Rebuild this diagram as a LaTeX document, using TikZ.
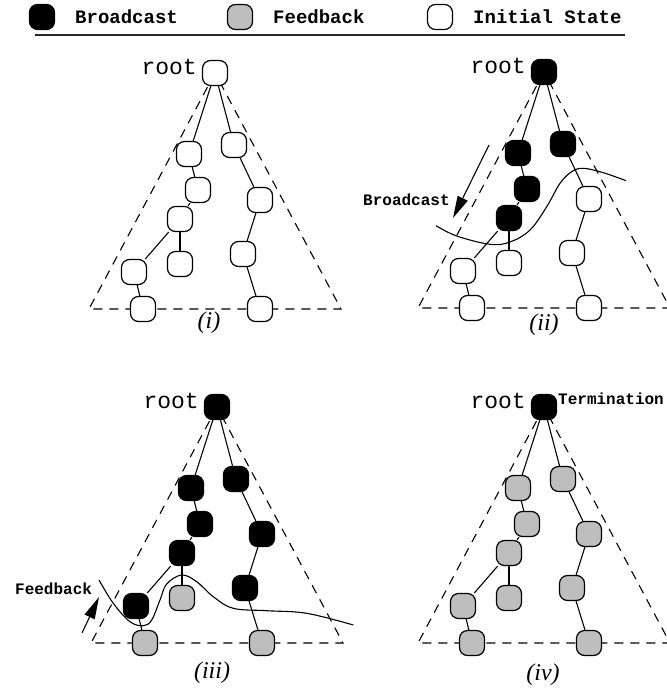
\documentclass[tikz,border=0pt]{standalone}
\usepackage{fontspec}
\setmainfont{Liberation Serif}
\setmonofont{Liberation Mono}
\usetikzlibrary{arrows.meta}
\definecolor{fb}{RGB}{190,190,190}
\tikzset{
  nd/.style={draw=black, line width=1.2pt, rounded corners=8pt, minimum width=25pt, minimum height=25pt, inner sep=0pt, fill=white},
  treeedge/.style={line width=1.1pt},
  tri/.style={line width=1.1pt, dash pattern=on 9pt off 7pt},
  wave/.style={line width=1.1pt},
  rootlbl/.style={font=\ttfamily\fontsize{23}{23}\selectfont, inner sep=0pt, anchor=east},
  lbl/.style={font=\ttfamily\bfseries\fontsize{16}{16}\selectfont, inner sep=0pt, anchor=west},
  leg/.style={font=\ttfamily\bfseries\fontsize{19}{19}\selectfont, inner sep=0pt, anchor=west},
  captxt/.style={font=\itshape\fontsize{24}{24}\selectfont, inner sep=0pt},
  arr/.style={line width=1.1pt, -{Triangle[length=22pt,width=11pt]}},
}
\newcommand\DrawTree[6]{%
 \begin{scope}[shift={#2}]
  \draw[tri] (0,0) -- (-126,236) -- (126,236) -- cycle;
  \foreach \n/\x/\y/\c in {root/0/0/#3, L1/-26/81/#4, R1/19/72/#4, L2/-17/117/#4, L3/-35/146/#4, M/-35/191/#6, L4/-81/199/#5, L5/-72/236/#6, R2/45/127/#5, R3/28/181/#5, R4/45/236/#6}
    \node[nd, fill=\c] (#1\n) at (\x,\y) {};
  \foreach \a/\b in {root/L1, root/R1, L1/L2, L2/L3, L3/M, L3/L4, L4/L5, R1/R2, R2/R3, R3/R4}
    \draw[treeedge] (#1\a) -- (#1\b);
  \node[rootlbl] (#1lbl) at (-18,-6) {root};
 \end{scope}}
\begin{document}
\begin{tikzpicture}[x=1pt,y=-1pt]
\useasboundingbox (0,0) rectangle (666,690);
% legend
\node[nd, fill=black] (legB) at (42,17) {};
\node[leg] (legBt) at (75,17) {Broadcast};
\node[nd, fill=fb] (legF) at (240,17) {};
\node[leg] (legFt) at (273,17) {Feedback};
\node[nd] (legI) at (440,17) {};
\node[leg] (legIt) at (473,17) {Initial State};
\coordinate (rule1) at (35,35);
\coordinate (rule2) at (625,35);
\draw[line width=1.3pt, black!85] (rule1) -- (rule2);
% panels
\DrawTree{a}{(215,73)}{white}{white}{white}{white}
\DrawTree{b}{(544,72)}{black}{black}{white}{white}
\DrawTree{c}{(217,407)}{black}{black}{black}{fb}
\DrawTree{d}{(544,407)}{black}{fb}{fb}{fb}
% captions
\node[captxt] (capi) at (209,323) {(i)};
\node[captxt] (capii) at (544,325) {(ii)};
\node[captxt] (capiii) at (212,673) {(iii)};
\node[captxt] (capiv) at (543,675) {(iv)};
% broadcast wave and arrow
\draw[wave] plot[smooth, tension=0.6] coordinates {(436,225.7) (456.7,236) (490,244.3) (510,242) (530,230) (546.7,206.7) (560,183.3) (571.7,171.7) (583.3,168.3) (603.3,172.7) (626,180.7)};
\coordinate (bs) at (489,145);
\coordinate (be) at (453,218);
\draw[arr] (bs) -- (be);
\node[lbl] (blbl) at (363,200) {Broadcast};
% feedback wave and arrow
\draw[wave] plot[smooth, tension=0.6] coordinates {(99,580) (113.3,603.3) (130,621.7) (143.3,625.7) (151.7,620) (160,600) (166.7,584) (181.7,575) (196.7,581.7) (213.3,596.7) (233.3,608.3) (266.7,610.7) (306.7,613.3) (353.3,625)};
\coordinate (fs) at (82,633);
\coordinate (fe) at (99,597);
\draw[arr] (fs) -- (fe);
\node[lbl] (flbl) at (15,589) {Feedback};
% termination
\node[lbl] (tlbl) at (558,399) {Termination};
\end{tikzpicture}
\end{document}
